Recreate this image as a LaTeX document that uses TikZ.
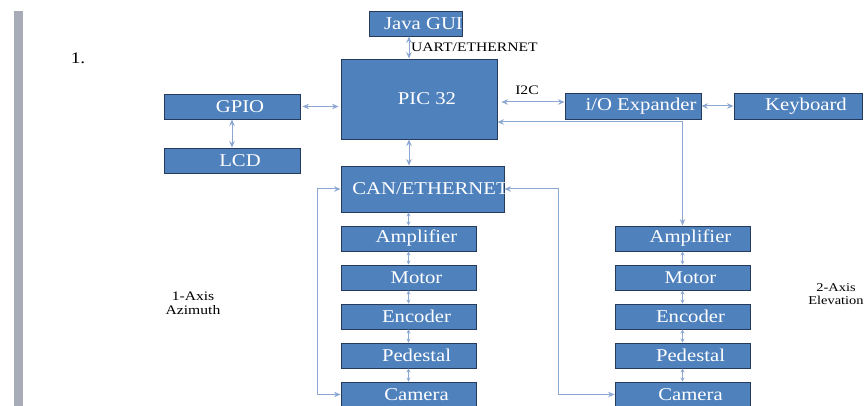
\documentclass[tikz,border=0pt]{standalone}
\usepackage{fontspec}
\setmainfont{Liberation Serif}
\usetikzlibrary{arrows.meta}
\definecolor{boxblue}{RGB}{79,129,189}
\definecolor{boxline}{RGB}{38,58,92}
\definecolor{linkblue}{RGB}{140,168,210}
\definecolor{bargray}{RGB}{168,172,185}
\newcommand{\boxtxt}[1]{\makebox[0pt]{\hspace*{16pt}\raisebox{-1.5pt}{\scalebox{1.15}[1]{#1}}}}
\newcommand{\lbltxt}[1]{\scalebox{1.2}[1]{#1}}

\begin{document}
\begin{tikzpicture}[x=1pt, y=-1pt,
	blk/.style={draw=boxline, fill=boxblue, line width=0.9pt, text=white, inner sep=0pt, minimum height=25pt, font=\fontsize{18}{20}\selectfont},
	link/.style={<->, >={Stealth[length=6.5pt,width=5.5pt]}, draw=linkblue, line width=1pt},
	chain/.style={<->, >={Stealth[open,length=4pt,width=4pt]}, draw=linkblue, line width=0.8pt},
	lbl/.style={text=black, inner sep=0pt, font=\fontsize{13}{14}\selectfont}]
			\useasboundingbox (0,0) rectangle (865,406);
			\clip (0,0) rectangle (865,406);
			% page bar and number
			\fill[bargray] (14,11) rectangle (23,406);
			\node[lbl, font=\fontsize{16}{18}\selectfont] (num) at (78,58) {\lbltxt{1.}};
			
			% top blocks
			\node[blk, minimum width=93pt] (java) at (415.5,23.5) {\boxtxt{Java GUI}};
			\node[blk, minimum width=156pt, minimum height=80pt] (pic) at (419,99) {\boxtxt{PIC 32}};
			\node[blk, minimum width=136pt] (gpio) at (232,106.5) {\boxtxt{GPIO}};
			\node[blk, minimum width=136pt] (lcd) at (232,160.5) {\boxtxt{LCD}};
			\node[blk, minimum width=136pt, minimum height=26pt] (io) at (633,106) {\boxtxt{i/O Expander}};
			\node[blk, minimum width=128pt, minimum height=26pt] (kbd) at (798,106) {\boxtxt{Keyboard}};
			\node[blk, minimum width=163pt, minimum height=46pt] (can) at (422.5,189) {\boxtxt{CAN/ETHERNET}};
			
			% axis columns
			\foreach \name/\txt/\yy in {amp/Amplifier/238.5, mot/Motor/277.5, enc/Encoder/316.5, ped/Pedestal/355.5, cam/Camera/394.5} {
				\node[blk, minimum width=135pt] (l\name) at (408.5,\yy) {\boxtxt{\txt}};
				\node[blk, minimum width=135pt] (r\name) at (682.5,\yy) {\boxtxt{\txt}};
			}
			
			% labels
			\node[lbl, anchor=west] (uart) at (411,47) {\lbltxt{UART/ETHERNET}};
			\node[lbl] (i2c) at (527,90) {\lbltxt{I2C}};
			\node[lbl, align=center] (az) at (193,303) {\lbltxt{1-Axis}\\\lbltxt{Azimuth}};
			\node[lbl, align=center, font=\fontsize{12}{13}\selectfont] (el) at (836,294) {\lbltxt{2-Axis}\\\lbltxt{Elevation}};
			
			% links
			\draw[link] ([xshift=-6.5pt]java.south) -- ([xshift=-6.5pt]java.south |- pic.north);
			\draw[link, shorten <=2pt, shorten >=2pt] (gpio.east) -- (gpio.east -| pic.west);
			\draw[link] (gpio) -- (lcd);
			\draw[link, shorten <=4pt] ([yshift=4pt]io.west -| pic.east) -- ([yshift=4pt]io.west);
			\draw[link] (io) -- (kbd);
			\draw[link] ([yshift=-23pt]pic.east) -| (ramp.north);
			\draw[link] ([xshift=-10pt]pic.south) -- ([xshift=-10pt]pic.south |- can.north);
			\draw[link] (lcam.west) -- ++(-23,0) |- (can.west);
			\draw[link] (can.east) -- ++(54,0) |- (rcam.west);
			
			% small links in the columns
			\draw[chain] (lamp.north |- can.south) -- (lamp.north);
			\foreach \a/\b in {amp/mot, mot/enc, enc/ped, ped/cam} {
				\draw[chain] (l\a) -- (l\b);
				\draw[chain] (r\a) -- (r\b);
			}
		\end{tikzpicture}
\end{document}
